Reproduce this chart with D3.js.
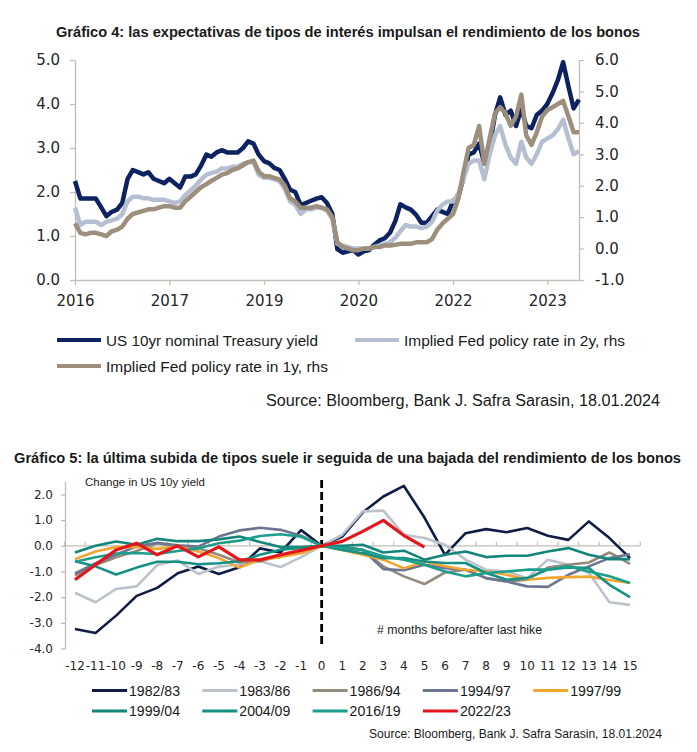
<!DOCTYPE html>
<html>
<head>
<meta charset="utf-8">
<script src="https://cdn.jsdelivr.net/npm/d3@7"></script>
<style>
  body { margin: 0; background: #fff; }
  svg { display: block; }
</style>
</head>
<body>
<svg id="chart" width="697" height="752"></svg>
<script>
// ---------- Gráfico 4: monthly readings, Jan 2016 .. Jan 2024 ----------
const firstMonth = new Date(2016, 0, 1);
// US 10yr nominal Treasury yield (lhs)
const tenYearYield = [
  2.25, 1.85, 1.85, 1.85, 1.85, 1.65, 1.45, 1.55, 1.6, 1.75, 2.3, 2.5,
  2.45, 2.4, 2.45, 2.3, 2.25, 2.2, 2.3, 2.2, 2.1, 2.35, 2.35, 2.4,
  2.6, 2.85, 2.8, 2.9, 2.95, 2.9, 2.9, 2.9, 3.0, 3.15, 3.1, 2.85,
  2.7, 2.65, 2.55, 2.5, 2.3, 2.05, 2.0, 1.7, 1.75, 1.8, 1.85, 1.88,
  1.75, 1.5, 0.7, 0.62, 0.65, 0.68, 0.58, 0.65, 0.68, 0.8, 0.9, 0.95,
  1.08, 1.35, 1.72, 1.65, 1.6, 1.48, 1.3, 1.3, 1.45, 1.6, 1.55, 1.5,
  1.8, 1.9, 2.3, 2.85, 2.9, 3.1, 2.65, 3.05, 3.75, 4.15, 3.75, 3.85,
  3.5, 3.9, 3.5, 3.45, 3.75, 3.85, 4.0, 4.25, 4.55, 4.95, 4.4, 3.9,
  4.1
];
// Implied Fed policy rate in 2y (rhs)
const fedRate2y = [
  1.3, 0.75, 0.85, 0.85, 0.85, 0.75, 0.85, 0.9, 0.95, 1.1, 1.5, 1.65,
  1.65, 1.6, 1.6, 1.55, 1.55, 1.55, 1.5, 1.45, 1.5, 1.7, 1.85, 2.0,
  2.2, 2.35, 2.4, 2.45, 2.55, 2.55, 2.6, 2.6, 2.7, 2.75, 2.75, 2.35,
  2.25, 2.25, 2.2, 2.15, 1.9, 1.5, 1.4, 1.1, 1.25, 1.25, 1.3, 1.3,
  1.2, 0.95, 0.15, 0.1, 0.05, 0.0, 0.0, 0.0, 0.0, 0.05, 0.1, 0.15,
  0.2, 0.35, 0.55, 0.75, 0.7, 0.7, 0.65, 0.7, 0.85, 1.2, 1.4, 1.5,
  1.5, 1.75, 2.2, 2.7, 2.8, 2.8, 2.2, 3.0, 3.6, 3.9, 3.3, 2.9,
  2.7, 3.4, 2.9, 2.7, 3.0, 3.4, 3.5, 3.6, 3.8, 4.1, 3.5, 3.0,
  3.1
];
// Implied Fed policy rate in 1y (rhs)
const fedRate1y = [
  0.8, 0.5, 0.45, 0.5, 0.5, 0.45, 0.4, 0.55, 0.6, 0.7, 0.95, 1.1,
  1.15, 1.2, 1.25, 1.25, 1.3, 1.35, 1.35, 1.3, 1.3, 1.5, 1.65, 1.8,
  1.95, 2.05, 2.15, 2.25, 2.35, 2.4, 2.5, 2.55, 2.65, 2.75, 2.8, 2.45,
  2.3, 2.3, 2.25, 2.2, 2.0, 1.6, 1.5, 1.3, 1.3, 1.3, 1.35, 1.3,
  1.25, 1.0, 0.2, 0.05, 0.0, -0.05, -0.05, 0.0, 0.0, 0.05, 0.05, 0.1,
  0.1, 0.12, 0.15, 0.15, 0.15, 0.2, 0.2, 0.2, 0.3, 0.6, 0.8, 0.95,
  1.1, 1.6, 2.4, 3.2, 3.3, 3.9, 2.7, 3.5, 4.3, 4.5, 4.3, 3.9,
  4.2, 4.9, 3.6, 3.3, 3.7, 4.2, 4.4, 4.5, 4.6, 4.7, 4.2, 3.7,
  3.7
];
const leftTicks = [0, 1, 2, 3, 4, 5];
const rightTicks = [-1, 0, 1, 2, 3, 4, 5, 6];
const dateTicks = [new Date(2016, 0, 1), new Date(2017, 6, 1), new Date(2019, 0, 1),
                   new Date(2020, 6, 1), new Date(2022, 0, 1), new Date(2023, 6, 1)];
const legend4 = ["US 10yr nominal Treasury yield", "Implied Fed policy rate in 2y, rhs",
                 "Implied Fed policy rate in 1y, rhs"];

// ---------- Gráfico 5: change in US 10y yield around the last hike ----------
const months = [-12, -11, -10, -9, -8, -7, -6, -5, -4, -3, -2, -1, 0,
                1, 2, 3, 4, 5, 6, 7, 8, 9, 10, 11, 12, 13, 14, 15];
const cycles = ["1982/83", "1983/86", "1986/94", "1994/97", "1997/99",
                "1999/04", "2004/09", "2016/19", "2022/23"];
const c1982 = [-3.24, -3.4, -2.72, -1.95, -1.64, -1.07, -0.81, -1.1, -0.84, -0.1, -0.26, 0.61, 0,
               0.36, 1.3, 1.92, 2.33, 1.1, -0.35, 0.49, 0.65, 0.53, 0.69, 0.39, 0.23, 0.95, 0.3, -0.48];
const c1983 = [-1.83, -2.2, -1.68, -1.58, -0.75, -0.57, -1.1, -0.81, -0.73, -0.6, -0.83, -0.44, 0,
               0.43, 1.34, 1.37, 0.43, 0.3, 0.04, -0.54, -0.93, -1.0, -1.26, -0.54, -0.74, -1.06, -2.2, -2.3];
const c1986 = [-1.15, -0.75, -0.45, -0.2, 0.1, -0.05, -0.1, -0.35, -0.65, -0.6, -0.4, -0.2, 0,
               -0.09, -0.16, -0.8, -1.19, -1.49, -1.04, -0.93, -1.26, -1.39, -1.32, -0.85, -0.74, -0.65, -0.26, -0.7];
const c1994 = [-1.08, -0.68, -0.35, -0.02, 0.12, 0.02, -0.03, 0.36, 0.6, 0.7, 0.62, 0.39, 0,
               -0.03, -0.16, -0.91, -0.95, -0.74, -0.87, -0.93, -1.26, -1.39, -1.58, -1.6, -1.13, -0.8, -0.48, -0.33];
const c1997 = [-0.52, -0.22, -0.05, -0.05, -0.12, -0.03, -0.22, -0.48, -0.85, -0.54, -0.44, -0.29, 0,
               -0.16, -0.35, -0.54, -0.88, -0.61, -0.8, -0.93, -1.0, -1.13, -1.32, -1.25, -1.22, -1.2, -1.33, -1.45];
const c1999 = [-0.26, 0.0, 0.17, 0.04, 0.27, 0.18, 0.18, 0.25, 0.36, 0.15, -0.05, -0.05, 0,
               0.0, 0.04, -0.26, -0.19, -0.54, -0.35, -0.22, -0.44, -0.39, -0.39, -0.22, -0.09, -0.35, -0.52, -0.52];
const c2004 = [-0.6, -0.8, -1.12, -0.85, -0.62, -0.62, -0.72, -0.68, -0.6, -0.35, -0.15, -0.08, 0,
               -0.16, -0.29, -0.48, -0.48, -0.61, -0.67, -0.67, -1.06, -1.32, -1.26, -0.93, -0.84, -0.87, -1.52, -2.0];
const c2016 = [-0.62, -0.45, -0.3, -0.28, -0.32, -0.2, -0.1, 0.1, 0.2, 0.38, 0.45, 0.35, 0,
               -0.09, -0.16, -0.41, -0.54, -0.74, -1.0, -1.19, -1.06, -1.0, -0.93, -0.93, -0.8, -1.0, -1.19, -1.45];
const c2022 = [-1.32, -0.74, -0.16, 0.1, -0.35, 0.0, -0.43, -0.04, -0.55, -0.55, -0.35, -0.18, 0,
               0.17, 0.56, 0.99, 0.4, -0.05];
const cycleValues = [c1982, c1983, c1986, c1994, c1997, c1999, c2004, c2016, c2022];
const changeTicks = [-4, -3, -2, -1, 0, 1, 2];

// ---------- drawing ----------
const svg = d3.select("#chart");
const tickFont = "DejaVu Sans, Verdana, sans-serif";
const textFont = "Liberation Sans, Arial, sans-serif";
// plain hyphen for negatives, like the source chart
const fmt1 = d => d.toFixed(1);

// squeeze/stretch a text to the width measured on the reference
function fit(sel, w) {
  sel.attr("textLength", w).attr("lengthAdjust", "spacingAndGlyphs");
}

// ===== Gráfico 4 =====
svg.append("text")
  .attr("x", 348).attr("y", 36.5)
  .attr("text-anchor", "middle")
  .style("font-family", textFont).style("font-weight", "bold").style("font-size", "14px")
  .style("fill", "#1a1a1a")
  .text("Gráfico 4: las expectativas de tipos de interés impulsan el rendimiento de los bonos")
  .call(fit, 584);

const x4 = d3.scaleTime().domain([new Date(2016, 0, 1), new Date(2024, 0, 1)]).range([75, 579]);
const yLeft = d3.scaleLinear().domain([0, 5]).range([280, 60]);
const yRight = d3.scaleLinear().domain([-1, 6]).range([280, 60]);
const axisColor4 = "#c4bfb6";

function styleAxis(g, color, size) {
  g.selectAll("path, line").attr("stroke", color).attr("stroke-width", 1.3);
  g.selectAll("text")
    .style("font-family", tickFont).style("font-size", size)
    .style("fill", "#262626");
}

svg.append("g")
  .attr("transform", "translate(75,0)")
  .call(d3.axisLeft(yLeft).tickValues(leftTicks).tickFormat(fmt1).tickSize(5).tickSizeOuter(0).tickPadding(10))
  .call(styleAxis, axisColor4, "15px");

svg.append("g")
  .attr("transform", "translate(579,0)")
  .call(d3.axisRight(yRight).tickValues(rightTicks).tickFormat(fmt1).tickSize(5).tickSizeOuter(0).tickPadding(11))
  .call(styleAxis, axisColor4, "15px");

svg.append("g")
  .attr("transform", "translate(0,280)")
  .call(d3.axisBottom(x4).tickValues(dateTicks).tickFormat(d3.timeFormat("%Y")).tickSize(5).tickSizeOuter(0).tickPadding(10))
  .call(styleAxis, axisColor4, "15px");

const monthDate = (d, i) => d3.timeMonth.offset(firstMonth, i);
const lineLeft = d3.line().x((d, i) => x4(monthDate(d, i))).y(d => yLeft(d));
const lineRight = d3.line().x((d, i) => x4(monthDate(d, i))).y(d => yRight(d));

const series4 = [
  { values: tenYearYield, line: lineLeft, color: "#0d2260" },
  { values: fedRate2y, line: lineRight, color: "#b6bfd1" },
  { values: fedRate1y, line: lineRight, color: "#9c8f7d" }
];
svg.append("g").selectAll("path")
  .data(series4)
  .join("path")
  .attr("d", s => s.line(s.values))
  .attr("fill", "none")
  .attr("stroke", s => s.color)
  .attr("stroke-width", 4.5)
  .attr("stroke-linejoin", "round");

// legend 4
const leg4Pos = [[57, 340], [355, 340], [57, 366]];
const leg4Width = [212, 221, 222];
const leg4 = svg.append("g").selectAll("g")
  .data(legend4)
  .join("g")
  .attr("transform", (d, i) => `translate(${leg4Pos[i][0]},${leg4Pos[i][1]})`);
leg4.append("line")
  .attr("x1", 0).attr("x2", 44)
  .attr("stroke", (d, i) => series4[i].color)
  .attr("stroke-width", 4);
leg4.append("text")
  .attr("x", 49).attr("y", 5.5)
  .style("font-family", textFont).style("font-size", "15.5px").style("fill", "#1a1a1a")
  .text(d => d)
  .each(function (d, i) { d3.select(this).call(fit, leg4Width[i]); });

svg.append("text")
  .attr("x", 660).attr("y", 405.5)
  .attr("text-anchor", "end")
  .style("font-family", textFont).style("font-size", "16px").style("fill", "#1a1a1a")
  .text("Source: Bloomberg, Bank J. Safra Sarasin, 18.01.2024")
  .call(fit, 394);

// ===== Gráfico 5 =====
svg.append("text")
  .attr("x", 347.5).attr("y", 463)
  .attr("text-anchor", "middle")
  .style("font-family", textFont).style("font-weight", "bold").style("font-size", "14px")
  .style("fill", "#1a1a1a")
  .text("Gráfico 5: la última subida de tipos suele ir seguida de una bajada del rendimiento de los bonos")
  .call(fit, 667);

const x5 = d3.scaleBand().domain(months).range([64.7, 640.3]);
const xMid = m => x5(m) + x5.bandwidth() / 2;
const y5 = d3.scaleLinear().domain([-4, 2.5]).range([648.5, 481.6]);
const axisColor5 = "#c0bdb8";

svg.append("g")
  .attr("transform", "translate(65,0)")
  .call(d3.axisLeft(y5).tickValues(changeTicks).tickFormat(fmt1).tickSize(4).tickSizeOuter(0).tickPadding(8))
  .call(styleAxis, axisColor5, "12px");

// zero line with small tick marks on the category boundaries
const zeroY = y5(0);
svg.append("line")
  .attr("x1", 64.7).attr("x2", 640.3).attr("y1", zeroY).attr("y2", zeroY)
  .attr("stroke", axisColor5).attr("stroke-width", 1.3);
svg.append("g").selectAll("line")
  .data(months.concat(["end"]))
  .join("line")
  .attr("x1", d => d === "end" ? 640.3 : x5(d))
  .attr("x2", d => d === "end" ? 640.3 : x5(d))
  .attr("y1", zeroY).attr("y2", zeroY - 4)
  .attr("stroke", axisColor5).attr("stroke-width", 1.2);

// month labels at the bottom
svg.append("g").selectAll("text")
  .data(months)
  .join("text")
  .attr("x", d => xMid(d)).attr("y", 669.5)
  .attr("text-anchor", "middle")
  .style("font-family", tickFont).style("font-size", "12px").style("fill", "#262626")
  .text(d => d);

svg.append("text")
  .attr("x", 85).attr("y", 486)
  .style("font-family", textFont).style("font-size", "11.5px").style("fill", "#1a1a1a")
  .text("Change in US 10y yield")
  .call(fit, 120);

svg.append("text")
  .attr("x", 377).attr("y", 634)
  .style("font-family", textFont).style("font-size", "12px").style("fill", "#1a1a1a")
  .text("# months before/after last hike")
  .call(fit, 165);

// last hike marker
svg.append("line")
  .attr("x1", xMid(0)).attr("x2", xMid(0))
  .attr("y1", 480).attr("y2", 648)
  .attr("stroke", "#000").attr("stroke-width", 2.8)
  .attr("stroke-dasharray", "8,4");

const cycleColors = ["#101c45", "#bcc2cc", "#948a7e", "#6d7591", "#f2a530",
                     "#13857a", "#159183", "#1c9e8d", "#e3161b"];
const line5 = d3.line().x((d, i) => xMid(months[i])).y(d => y5(d));
svg.append("g").selectAll("path")
  .data(cycleValues)
  .join("path")
  .attr("d", v => line5(v))
  .attr("fill", "none")
  .attr("stroke", (v, i) => cycleColors[i])
  .attr("stroke-width", (v, i) => i === 8 ? 3.2 : 2.6)
  .attr("stroke-linejoin", "round");

// legend 5
const leg5 = svg.append("g").selectAll("g")
  .data(cycles)
  .join("g")
  .attr("transform", (d, i) => `translate(${92 + (i % 5) * 110.3},${i < 5 ? 690.5 : 711})`);
leg5.append("line")
  .attr("x1", 0).attr("x2", 35)
  .attr("stroke", (d, i) => cycleColors[i])
  .attr("stroke-width", 3);
leg5.append("text")
  .attr("x", 37).attr("y", 5)
  .style("font-family", textFont).style("font-size", "14px").style("fill", "#1a1a1a")
  .text(d => d)
  .call(fit, 51);

svg.append("text")
  .attr("x", 662).attr("y", 738)
  .attr("text-anchor", "end")
  .style("font-family", textFont).style("font-size", "12px").style("fill", "#1a1a1a")
  .text("Source: Bloomberg, Bank J. Safra Sarasin, 18.01.2024")
  .call(fit, 293);
</script>
</body>
</html>
